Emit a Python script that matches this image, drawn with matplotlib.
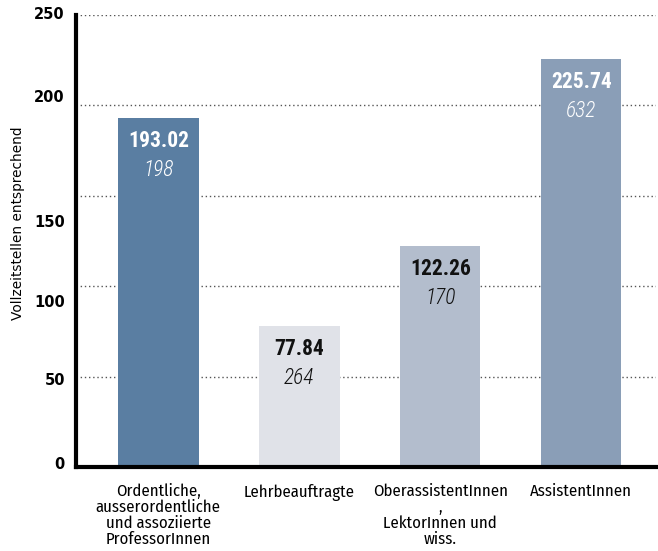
import matplotlib
matplotlib.use("Agg")
import matplotlib.pyplot as plt

# ---- data ----
categories = [
    "Ordentliche,\nausserordentliche\nund assoziierte\nProfessorInnen",
    "Lehrbeauftragte",
    "OberassistentInnen\n,\nLektorInnen und\nwiss.",
    "AssistentInnen",
]
fte_values = [193.02, 77.84, 122.26, 225.74]
headcounts = [198, 264, 170, 632]
y_ticks = [0, 50, 100, 150, 200, 250]
y_label = "Vollzeitstellen entsprechend"

# ---- style ----
bar_colors = ["#5a7ea2", "#e0e2e8", "#b3bdcd", "#8a9eb7"]
text_colors = ["white", "#111111", "#111111", "white"]
# vertical offsets (points) of tick labels as drawn in the reference
tick_label_dy = [-1.5, 3, 11.5, 19, -6, 0]
cat_font = "Fira Sans Condensed"
val_font = "Roboto Condensed"

fig = plt.figure(figsize=(6.58, 5.51), dpi=100)
ax = fig.add_axes([0.1155, 0.1525, 0.8815, 0.8203])

x = list(range(len(categories)))
ax.bar(x, fte_values, width=0.57, color=bar_colors, zorder=2)

ax.set_xlim(-0.584, 3.53)
ax.set_ylim(0, 250)
ax.set_yticks(y_ticks)
ax.set_yticklabels([])
trans = ax.get_yaxis_transform()
for t, dy in zip(y_ticks, tick_label_dy):
    ax.annotate(str(t), xy=(0, t), xycoords=trans, xytext=(-8, -dy),
                textcoords="offset points", ha="right", va="center",
                fontfamily="DejaVu Sans", fontweight="bold", fontsize=10.5,
                annotation_clip=False)

ax.set_xticks(x)
ax.set_xticklabels(categories, fontfamily=cat_font, fontsize=12, linespacing=0.98)
ax.tick_params(axis="both", length=0)
ax.tick_params(axis="x", pad=12)

ax.yaxis.grid(True, linestyle=(0, (1, 2)), color="#555555", linewidth=1.0, zorder=0)
ax.set_axisbelow(True)

for s in ["top", "right"]:
    ax.spines[s].set_visible(False)
ax.spines["left"].set_linewidth(3)
ax.spines["bottom"].set_linewidth(3)
ax.spines["left"].set_zorder(3)
ax.spines["bottom"].set_zorder(3)

ax.set_ylabel(y_label, fontfamily="DejaVu Sans", fontsize=9.8)
ax.yaxis.set_label_coords(-0.088, 0.54)

for xi, v, n, tc in zip(x, fte_values, headcounts, text_colors):
    ax.annotate(f"{v:.2f}", xy=(xi, v), xytext=(0, -16.5), textcoords="offset points",
                ha="center", va="center", color=tc, fontfamily=val_font,
                fontweight="bold", fontsize=15.5, zorder=4)
    ax.annotate(f"{n}", xy=(xi, v), xytext=(0, -37.5), textcoords="offset points",
                ha="center", va="center", color=tc, fontfamily=val_font,
                fontstyle="italic", fontweight="light", fontsize=15.5, zorder=4)

fig.savefig("out.png", dpi=100)
